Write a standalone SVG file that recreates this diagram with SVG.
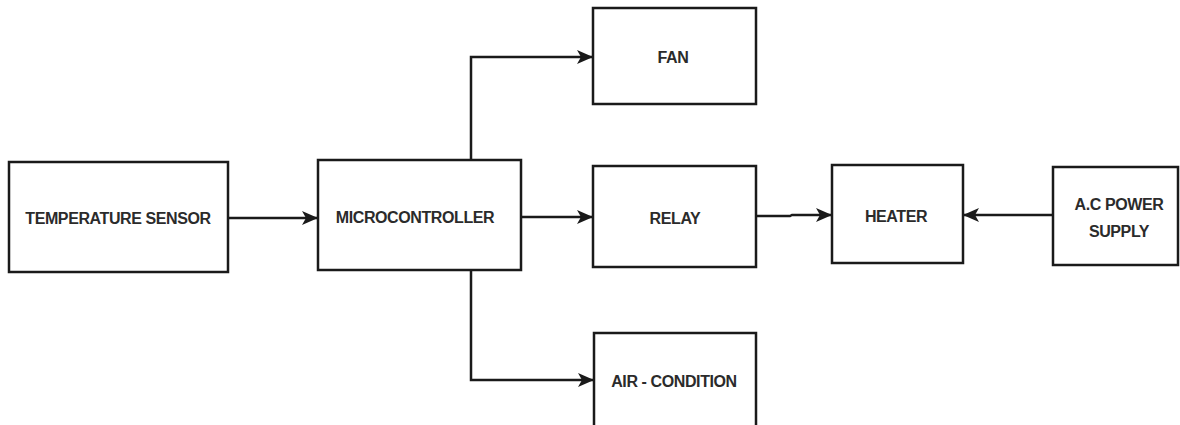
<svg xmlns="http://www.w3.org/2000/svg" width="1180" height="425" viewBox="0 0 1180 425">
<style>
.box{fill:#fff;stroke:#1a1a1a;stroke-width:2.5}
.lbl{font-family:"Liberation Sans",Arial,sans-serif;font-weight:bold;font-size:16px;fill:#2b2b2b;text-anchor:middle;dominant-baseline:central;letter-spacing:-0.4px}
.wire{fill:none;stroke:#1a1a1a;stroke-width:2.5}
</style>
<defs>
<marker id="ah" viewBox="0 0 16 14" refX="15" refY="7" markerWidth="16" markerHeight="14" markerUnits="userSpaceOnUse" orient="auto">
<path d="M0,0 L16,7 L0,14 L4,7 Z" fill="#1a1a1a"/>
</marker>
</defs>
<rect width="1180" height="425" fill="#fff"/>
<g id="connectors">
<line class="wire" x1="228" y1="218" x2="317" y2="218" marker-end="url(#ah)"/>
<polyline class="wire" points="471,160 471,57 592,57" marker-end="url(#ah)"/>
<line class="wire" x1="521" y1="217" x2="592" y2="217" marker-end="url(#ah)"/>
<polyline class="wire" points="471,270 471,380 593,380" marker-end="url(#ah)"/>
<polyline class="wire" points="756,216 790,216 792,215 831,215" marker-end="url(#ah)"/>
<line class="wire" x1="1053" y1="215" x2="964" y2="215" marker-end="url(#ah)"/>
</g>
<g id="temperature-sensor">
<rect class="box" x="9" y="162" width="219" height="110"/>
<text class="lbl" x="118" y="218">TEMPERATURE SENSOR</text>
</g>
<g id="microcontroller">
<rect class="box" x="318" y="160" width="203" height="110"/>
<text class="lbl" x="415" y="217">MICROCONTROLLER</text>
</g>
<g id="fan">
<rect class="box" x="593" y="8" width="163" height="96"/>
<text class="lbl" x="673" y="57">FAN</text>
</g>
<g id="relay">
<rect class="box" x="593" y="166" width="163" height="101"/>
<text class="lbl" x="675" y="218">RELAY</text>
</g>
<g id="air-condition">
<rect class="box" x="594" y="333" width="162" height="110"/>
<text class="lbl" x="674" y="381">AIR - CONDITION</text>
</g>
<g id="heater">
<rect class="box" x="832" y="165" width="131" height="98"/>
<text class="lbl" x="896" y="216">HEATER</text>
</g>
<g id="ac-power-supply">
<rect class="box" x="1053" y="167" width="125" height="98"/>
<text class="lbl" x="1119" y="204">A.C POWER</text>
<text class="lbl" x="1119" y="231">SUPPLY</text>
</g>
</svg>
